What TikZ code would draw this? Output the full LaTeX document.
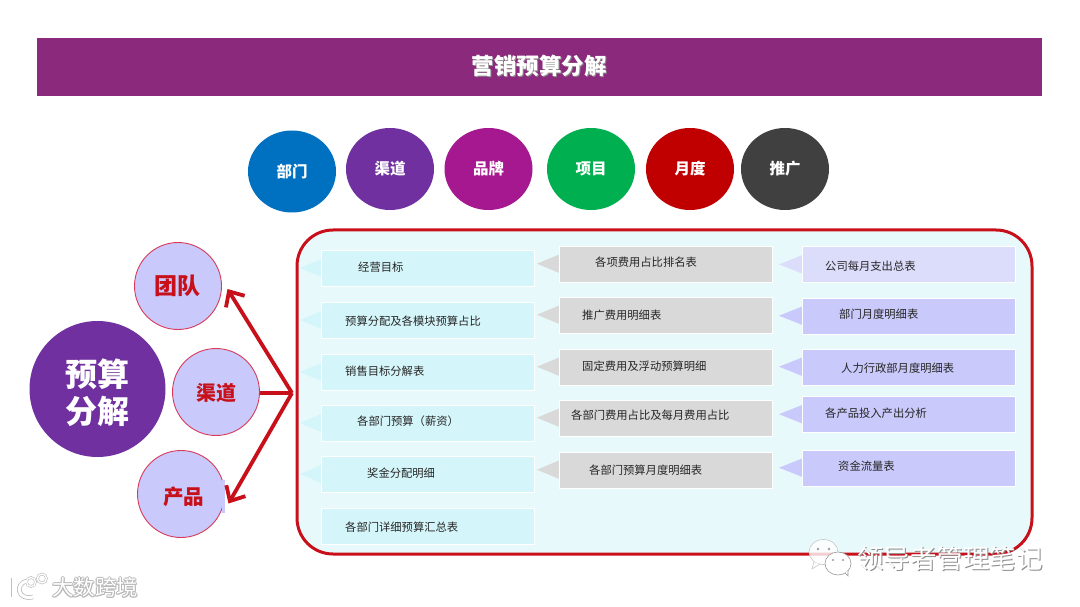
\documentclass[tikz,border=0pt]{standalone}
\usepackage{fontspec}
\setmainfont{Noto Sans CJK SC}
\usetikzlibrary{arrows.meta,shapes.geometric}
\definecolor{barc}{HTML}{8B2A7C}
\definecolor{cone}{HTML}{D4F5F9}
\definecolor{ctwo}{HTML}{D9D9D9}
\definecolor{cthree}{HTML}{C9C9FB}
\definecolor{cthreeb}{HTML}{DCDCFB}
\definecolor{redl}{HTML}{C8101A}
\definecolor{panelc}{HTML}{E8F9FB}
\definecolor{circc}{HTML}{C9C9FB}
\definecolor{circl}{HTML}{D83A5A}
\definecolor{purp}{HTML}{7030A0}
\definecolor{tblue}{HTML}{0070C0}
\definecolor{tmag}{HTML}{A6188F}
\definecolor{tgreen}{HTML}{00B050}
\definecolor{tred}{HTML}{C00000}
\definecolor{tgrey}{HTML}{404040}
\tikzset{
  x=1pt,y=-1pt,
  boxn/.style={draw=white,line width=.6pt,inner sep=0pt,minimum height=36pt,minimum width=213pt,anchor=north west},
  lab/.style={anchor=west,inner sep=0pt,font=\fontsize{11.3}{13}\selectfont,text=black!85},
  topc/.style={ellipse,inner sep=0pt,minimum width=88pt,minimum height=82pt,text=white,font=\fontsize{15.5}{17}\bfseries\selectfont},
  sidec/.style={circle,draw=circl,line width=.9pt,fill=circc,inner sep=0pt,minimum size=87pt},
  sidet/.style={inner sep=0pt,text=redl,font=\fontsize{20.5}{22}\bfseries\selectfont},
  redarrow/.style={draw=redl,line width=3.8pt,-{Straight Barb[length=12pt,width=22pt,line width=3.8pt]}},
  wm/.style={anchor=west,inner sep=0pt}
}
\newcommand{\callout}[8]{%
  \fill[#5] (#4,#3+18) -- (#2+1,#3+8.5) -- (#2+1,#3+27.5) -- cycle;
  \node[boxn,fill=#5] (#1) at (#2,#3) {};
  \node[lab] (#1t) at (#6,#7) {#8};
}
\newcommand{\wmtext}[4]{%
  \node[wm,text=black!45] at (#2+1,#3+1) {#4};
  \node[wm,text=white] (#1) at (#2,#3) {#4};
}
\newcommand{\glowtext}[4]{%
  \foreach \dx/\dy in {-1/0,1/0,0/-1,0/1,1/1,-1/1}{\node[wm,text=black!28] at (#2+\dx,#3+\dy) {#4};}
  \node[wm,text=white] (#1) at (#2,#3) {#4};
}
\begin{document}
\begin{tikzpicture}
\useasboundingbox (0,0) rectangle (1080,607);
\fill[white] (0,0) rectangle (1080,607);
% title
\node[fill=barc,minimum width=1005pt,minimum height=58pt,inner sep=0pt,anchor=north west] (bar) at (37,38) {};
\node[text=black!45,font=\fontsize{22.5}{24}\bfseries\selectfont,inner sep=0pt] at (540.2,67.2) {营销预算分解};
\node[text=white,font=\fontsize{22.5}{24}\bfseries\selectfont,inner sep=0pt] (title) at (539.3,66.3) {营销预算分解};
% top circles
\node[topc,fill=tblue] (t1) at (292,171.5) {部门};
\node[topc,fill=purp] (t2) at (390,169) {渠道};
\node[topc,fill=tmag] (t3) at (488.5,169) {品牌};
\node[topc,fill=tgreen] (t4) at (591,169) {项目};
\node[topc,fill=tred] (t5) at (690,169) {月度};
\node[topc,fill=tgrey] (t6) at (785,169) {推广};
% panel
\draw[draw=redl,line width=3pt,fill=panelc,rounded corners=36pt] (297,230) rectangle (1032,554);
% column 1
\callout{a1}{321.4}{250}{300}{cone}{358}{267}{经营目标}
\callout{a2}{321.4}{302}{300}{cone}{345}{321}{预算分配及各模块预算占比}
\callout{a3}{321.4}{354}{300}{cone}{345}{371}{销售目标分解表}
\callout{a4}{321.4}{405}{300}{cone}{357}{421}{各部门预算（薪资）}
\callout{a5}{321.4}{456}{300}{cone}{367}{473}{奖金分配明细}
\node[boxn,fill=cone] (a6) at (321.4,508) {};
\node[lab] (a6t) at (345,527) {各部门详细预算汇总表};
% column 2
\callout{b1}{558.8}{245.7}{537}{ctwo}{595}{262}{各项费用占比排名表}
\callout{b2}{558.8}{296.7}{537}{ctwo}{582}{315}{推广费用明细表}
\callout{b3}{558.8}{348.7}{537}{ctwo}{582}{366}{固定费用及浮动预算明细}
\callout{b4}{558.8}{399.7}{537}{ctwo}{571}{415}{各部门费用占比及每月费用占比}
\callout{b5}{558.8}{451.7}{537}{ctwo}{589}{470}{各部门预算月度明细表}
% column 3
\callout{c1}{801.8}{246.4}{779}{cthreeb}{825}{266}{公司每月支出总表}
\callout{c2}{801.8}{297.7}{779}{cthree}{839}{314}{部门月度明细表}
\callout{c3}{801.8}{348.7}{779}{cthree}{841}{368}{人力行政部月度明细表}
\callout{c4}{801.8}{396.2}{779}{cthree}{825}{413}{各产品投入产出分析}
\callout{c5}{801.8}{449.7}{779}{cthree}{838}{466}{资金流量表}
% left cluster
\node[circle,fill=purp,inner sep=0pt,minimum size=136pt] (main) at (97.5,389) {};
\node[inner sep=0pt,text=white,align=center,font=\fontsize{32}{37}\bfseries\selectfont] (maint) at (97.5,392.5) {预算\\分解};
\node[sidec] (team) at (178,286) {};
\node[sidet,font=\fontsize{23}{25}\bfseries\selectfont] (teamt) at (177,286) {团队};
\node[sidec] (chan) at (216,392) {};
\node[sidet,font=\fontsize{20}{22}\bfseries\selectfont] (chant) at (216,393) {渠道};
\node[sidec] (prod) at (181,494) {};
\node[sidet] (prodt) at (183.5,497) {产品};
\fill[circc] (222,480) rectangle (225,513);
\coordinate (hub) at (292,393);
\coordinate (tipa) at (227.5,289);
\coordinate (tipb) at (228.5,503.5);
\draw[draw=redl,line width=4pt] (chan.east |- hub) -- (hub);
\draw[redarrow] (hub) -- (tipa);
\draw[redarrow] (hub) -- (tipb);
% watermarks
\glowtext{wma}{52}{587}{\fontsize{21.5}{23}\selectfont 大数跨境}
\wmtext{wmb}{857}{558}{\fontsize{26.5}{28}\selectfont 领导者管理笔记}
% wechat logo
\draw[black!22,fill=white,fill opacity=.8,line width=.6pt] (823.5,552) ellipse (14.5pt and 12.5pt);
\draw[black!22,fill=white,fill opacity=.8,line width=.6pt] (814,562) -- (812,569) -- (820,564);
\draw[black!40,fill=white,line width=.6pt] (838,563.5) ellipse (13pt and 11.5pt);
\draw[black!40,fill=white,line width=.6pt] (845,573) -- (848,576) -- (848,570);
\fill[black!40] (818,549) circle (1.4pt) (829,549) circle (1.4pt) (833,560) circle (1.2pt) (843,560) circle (1.2pt);
% kuajing logo
\foreach \c/\w/\t in {black!25/4.6/2.6,white/3/1.3}{
  \draw[\c,line width=\w pt] (13,578) -- (13,597);
  \draw[\c,line width=\w pt] (27,581) .. controls (15,583) and (17,601) .. (33,597);
  \draw[\c,line width=\t pt] (31,582) circle (4.5pt) (42,578.5) circle (4.5pt);
}
\end{tikzpicture}
\end{document}
